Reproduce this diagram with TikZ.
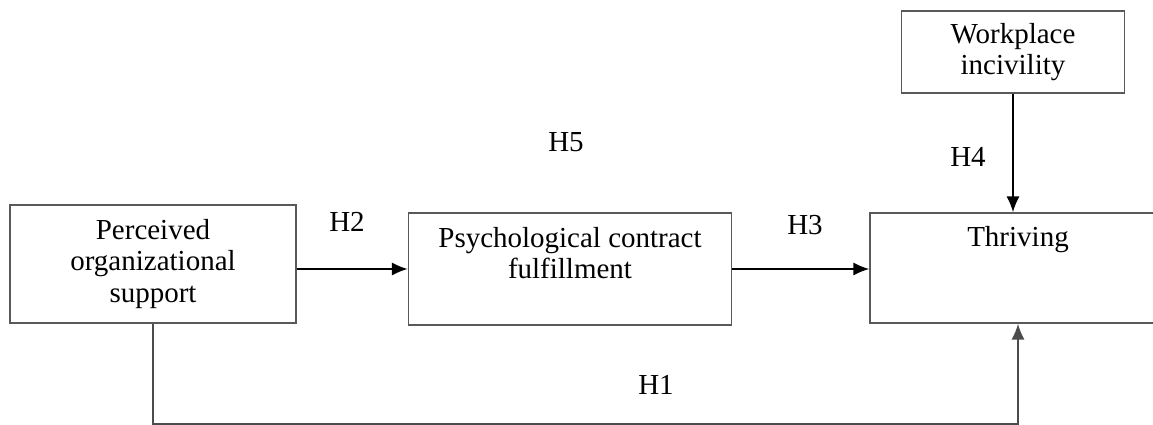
\documentclass[tikz,border=0pt]{standalone}
\usepackage{fontspec}
\setmainfont{Liberation Serif}
\usetikzlibrary{arrows.meta, calc, positioning}

\tikzset{
  box/.style={draw=black!65, line width=1pt, rectangle, align=center},
  hyp/.style={inner sep=0pt},
}

\begin{document}
\begin{tikzpicture}[x=0.02cm, y=-0.02cm, >={Latex[length=9pt,width=7.5pt]},
    every node/.style={font=\fontsize{16.5}{18}\selectfont}]
    \useasboundingbox (0,0) rectangle (1153,425);
    \clip (0,0) rectangle (1153,425);

    % boxes
    \node[box, minimum width=286*0.02cm, minimum height=118*0.02cm] (pos) at (153,264) {Perceived\\organizational\\support};
    \node[box, minimum width=323*0.02cm, minimum height=112*0.02cm] (pcf) at (570,269) {};
    \node[align=center] (pcftext) at (570,253) {Psychological contract\\fulfillment};
    \node[box, minimum width=296*0.02cm, minimum height=110*0.02cm] (thr) at (1018,268) {};
    \node (thrtext) at (1018,240) {Thriving};
    \node[box, minimum width=223*0.02cm, minimum height=82*0.02cm] (wi) at (1013,52) {Workplace\\incivility};

    % hypothesis labels
    \node[hyp] (h1) at (656,385) {H1};
    \node[hyp] (h2) at (347,222) {H2};
    \node[hyp] (h3) at (805,225) {H3};
    \node[hyp] (h4) at (968,157) {H4};
    \node[hyp] (h5) at (566,142) {H5};

    \coordinate (low) at (0,424);

    \draw[->, line width=0.8pt] (pcf.west -| pos.east) -- (pcf.west);
    \draw[->, line width=0.8pt] (pcf.east) -- (pcf.east -| thr.west);
    \draw[->, line width=0.8pt] (wi.south) -- (wi.south |- thr.north);
    \draw[->, line width=0.8pt, draw=black!70] (pos.south) -- (pos.south |- low) -| (thr.south);
\end{tikzpicture}
\end{document}
